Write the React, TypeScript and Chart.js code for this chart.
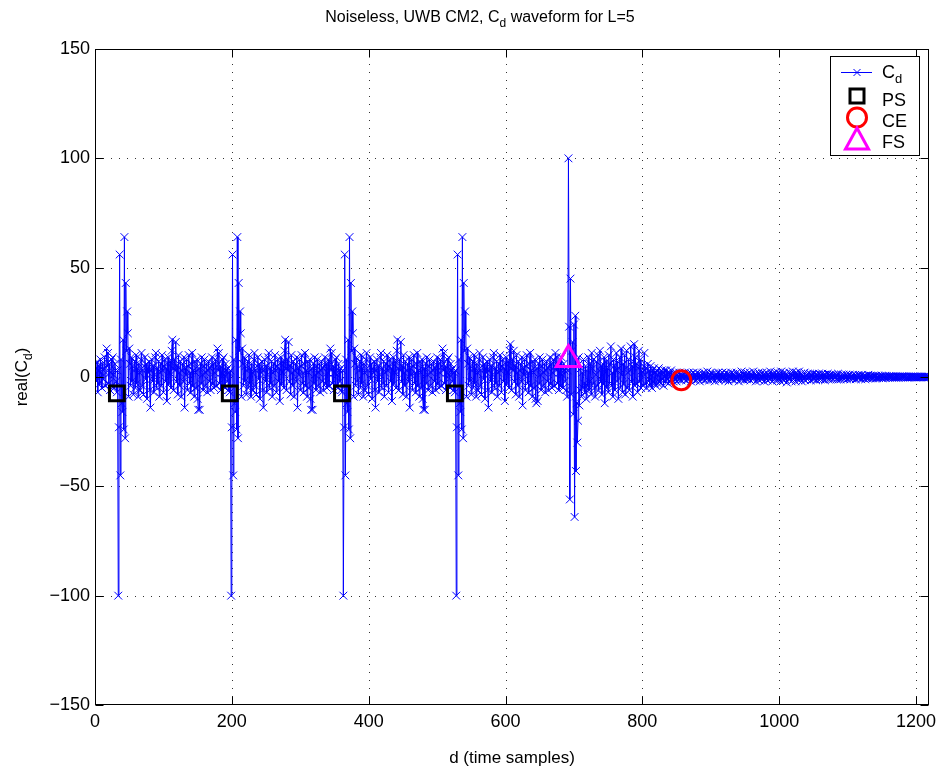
import React, { useEffect, useRef } from "react";
import { Chart, registerables } from "chart.js";

Chart.register(...registerables);

// ---------- DATA: real(C_d) for every time sample d = 0 .. 1219 ----------

// d = 0 .. 198 (first preamble symbol, peak at d = 34)
const cdSymbol1 = [
  1, 4, -2, 7, -7, 3, 5, -3, 8, 2, -5, 6, -1, 4, 9, -4, 2, 13, 5, 11,
  -3, 6, -6, 2, 8, -4, 9, 1, -5, 6, 3, -2, -7, 3, -100, -23, 56, -45, 8, -12,
  -16, 17, -24, 64, -28, 43, 12, 30, 20, -9, 13, 6, -4, 9, -2, 5, -8, 3, 7, -5,
  10, -3, 4, -9, 6, 2, -6, 8, 11, -4, 3, -8, 5, 9, -1, 6, -10, 4, 2, 7,
  -6, -14, 3, 8, -2, 5, -7, 1, 9, 11, -5, 4, -3, 7, -9, 2, 6, -4, 10, 3,
  -7, 5, 8, -2, 4, -11, 6, 9, -3, 2, 7, -5, 12, 17, 4, -6, 8, 3, 16, -2,
  5, -8, 10, 2, -4, 7, -9, 3, 6, -2, 9, -14, 4, 1, 8, -6, 5, 10, -3, 2,
  -7, 6, 11, -4, 3, -9, 7, 2, -5, 8, -10, -15, 4, -15, 6, -3, 9, 1, -6, 5,
  8, -4, 2, 6, -7, 3, 7, -2, 4, -6, 5, 9, -3, 6, -5, 2, 8, -4, 5, 13,
  3, 11, -3, 5, -6, 2, 8, -4, 9, 1, -5, 6, 3, -2, 4, -6, 2, -7, 3,
];

// d = 199 .. 362 (peak at d = 199)
const cdSymbol2 = [
  -100, -23, 56, -45, 8, -12, -16, 17, -24, 64, -28, 43, 12, 30, 20, -9, 13, 6, -4, 9,
  -2, 5, -8, 3, 7, -5, 10, -3, 4, -9, 6, 2, -6, 8, 11, -4, 3, -8, 5, 9,
  -1, 6, -10, 4, 2, 7, -6, -14, 3, 8, -2, 5, -7, 1, 9, 11, -5, 4, -3, 7,
  -9, 2, 6, -4, 10, 3, -7, 5, 8, -2, 4, -11, 6, 9, -3, 2, 7, -5, 12, 17,
  4, -6, 8, 3, 16, -2, 5, -8, 10, 2, -4, 7, -9, 3, 6, -2, 9, -14, 4, 1,
  8, -6, 5, 10, -3, 2, -7, 6, 11, -4, 3, -9, 7, 2, -5, 8, -10, -15, 4, -15,
  6, -3, 9, 1, -6, 5, 8, -4, 2, 6, -7, 3, 7, -2, 4, -6, 5, 9, -3, 6,
  -5, 2, 8, -4, 5, 13, 3, 11, -3, 5, -6, 2, 8, -4, 9, 1, -5, 6, 3, -2,
  4, -6, -7, 3,
];

// d = 363 .. 527 (peak at d = 363)
const cdSymbol3 = [
  -100, -23, 56, -45, 8, -12, -16, 17, -24, 64, -28, 43, 12, 30, 20, -9, 13, 6, -4, 9,
  -2, 5, -8, 3, 7, -5, 10, -3, 4, -9, 6, 2, -6, 8, 11, -4, 3, -8, 5, 9,
  -1, 6, -10, 4, 2, 7, -6, -14, 3, 8, -2, 5, -7, 1, 9, 11, -5, 4, -3, 7,
  -9, 2, 6, -4, 10, 3, -7, 5, 8, -2, 4, -11, 6, 9, -3, 2, 7, -5, 12, 17,
  4, -6, 8, 3, 16, -2, 5, -8, 10, 2, -4, 7, -9, 3, 6, -2, 9, -14, 4, 1,
  8, -6, 5, 10, -3, 2, -7, 6, 11, -4, 3, -9, 7, 2, -5, 8, -10, -15, 4, -15,
  6, -3, 9, 1, -6, 5, 8, -4, 2, 6, -7, 3, 7, -2, 4, -6, 5, 9, -3, 6,
  -5, 2, 8, -4, 5, 13, 3, 11, -3, 5, -6, 2, 8, -4, 9, 1, -5, 6, 3, -2,
  4, -6, 2, -7, 3,
];

// d = 528 .. 691 (peak at d = 528)
const cdSymbol4 = [
  -100, -23, 56, -45, 8, -12, -16, 17, -24, 64, -28, 43, 12, 30, 20, -9, 13, 6, -4, 9,
  -2, 5, -8, 3, 7, -5, 10, -3, 4, -9, 6, 2, -6, 8, 11, -4, 3, -8, 5, 9,
  -1, 6, -10, 4, 2, 7, -6, -14, 3, 8, -2, 5, -7, 1, 9, 11, -5, 4, -3, 7,
  -9, 2, 6, -4, 10, 3, -7, 5, 8, -2, 4, -11, 6, 9, -3, 2, 7, -5, 12, 15,
  4, -6, 8, 3, 12, -2, 5, -8, 10, 2, -4, 7, -9, 3, 6, -2, 9, -13, 4, 1,
  8, -6, 5, 10, -3, 2, -7, 6, 11, -4, 3, -9, 7, 2, -5, 8, -10, -12, 4, -11,
  6, -3, 9, 1, -6, 5, 8, -4, 2, 6, -7, 3, 7, -2, 4, -6, 5, 9, -3, 6,
  -5, 2, 8, -4, 5, 11, 3, 9, -3, 5, -6, 2, 8, -4, 9, 1, -5, 6, 3, -2,
  4, -6, -9, 3,
];

// d = 692 .. 799 (inverted symbol: frame start)
const cdFrameStart = [
  100, 23, -56, 45, -8, 12, 16, -17, 24, -64, 28, -43, -12, -30, -20, 9, -13, -6, 4, -9,
  2, -5, 8, -3, -7, 5, -10, 3, -4, 9, -6, -2, 6, -8, 11, 4, -3, 8, -5, -9,
  1, 7, -4, 10, -6, 3, 12, -2, 5, -8, 6, -3, 9, -12, 2, 7, -5, 4, -7, 10,
  -3, 6, 14, -4, 2, -9, 8, 5, -6, 3, 11, -2, 7, -10, 4, 9, -5, 13, 1, -7,
  6, -3, 10, -8, 4, 12, -5, 2, 8, -6, 3, 14, -2, 5, -9, 7, 15, -4, 9, -3,
  6, -7, 4, 12, -2, 8, -5, 3,
];

// d = 800 .. 856
const cdDecay = [
  2, -4, 5, 11, -3, 4, -5, 2, 6, -2, 3, -4, 5, 1, -5, 3, -2, 4, -3, 2,
  -4, 3, 1, -3, 4, -2, 2, -3, 3, -1, 2, -4, 3, 0, -2, 3, -1, 2, -3, 1,
  2, -2, 3, -1, 1, -2, 2, 0, -1, 2, -2, 1, 0, -1, 2, -1, 1,
];

// d = 857 .. 1219
const cdTail = [
  -1.5, 1, -0.5, 1.5, -1, 2, 0, -1.5, 1, 0.5, -1, 2, -0.5, 1, -2, 1.5, 0, -1, 2, -0.5,
  1, -1.5, 0.5, 2, -1, 0, 1.5, -2, 1, 0.5, -1, 1.5, -0.5, 2, -1.5, 0, 1, -1, 2.5, -0.5,
  0.5, -1.5, 1, 2, -1, 0, 1.5, -1, 0.5, -2, 1, 1.5, -0.5, 0, 2, -1.5, 1, -0.5, 1.5, -1,
  2, 0, -1, 1, -1.5, 2, 0.5, -1, 1.5, -2, 0, 1, -0.5, 2, -1, 0.5, 1.5, -1.5, 1, 0,
  -1, 2, -0.5, 1, -2, 1.5, 0.5, -1, 2.5, -1, 0, 1, -1.5, 2, -0.5, 1, -1, 1.5, 0, -1,
  2, -1.5, 0.5, 1, -1, 2.5, -0.5, 0, 1.5, -2, 1, 0.5, -1, 2, -1.5, 1, 0, -1, 2, -0.5,
  1, -2, 1.5, 0, -1, 2, -1.5, 1, 0.5, -1, 2.5, -0.5, 1, -2, 1.5, 0, -1, 2, -0.5, 1,
  -1.5, 2, 0, -1, 1.5, -2, 2.5, -0.5, 1, -1.5, 2, 0.5, -1, 1.5, -2.5, 1, 0, -1, 2, -0.5,
  1.5, -2, 1, 2.5, -1, 0, 1.5, -2, 2, -0.5, 1, -1.5, 2.5, 0, -1, 1.5, -2, 1, 0.5, -1,
  2, -1.5, 0.5, 1, -1, 1.5, -0.5, 0, 1.5, -1.5, 1, 0.5, -1, 1.5, -1, 0, 1, -1.5, 1, 0.5,
  -1, 1.5, 0, -1, 1, -0.5, 1.5, -1, 0.5, 1, -1.5, 1, 0, -0.5, 1.5, -1, 0.5, 1, -1, 0,
  1, -1, 0.5, 1, -0.5, 0, 1, -1, 0.5, 1.5, -1, 0, 0.5, -1, 1, 0, -0.5, 1, -1, 0.5,
  0, 1, -1, 0.5, 0.5, -0.5, 1, -1, 0, 0.5, -0.5, 1, -0.5, 0, 1, -1, 0.5, 0, -0.5, 1,
  -0.5, 0, 0.5, -1, 1, 0, -0.5, 0.5, 0.5, -1, 0.5, 0, -0.5, 1, -0.5, 0, 0.5, -0.5, 0.5, 0,
  -0.5, 0.5, 0, 0.5, -0.5, 0.5, -0.5, 0, 0.5, -0.5, 0.3, 0, -0.3, 0.5, -0.5, 0.3, 0, -0.3, 0.5, -0.3,
  0.3, 0, -0.3, 0.3, 0.2, -0.3, 0.3, 0, -0.2, 0.3, -0.3, 0.2, 0, -0.2, 0.3, -0.2, 0.2, 0, -0.2, 0.2,
  0, -0.2, 0.2, 0.1, -0.2, 0.2, 0, -0.1, 0.2, -0.2, 0.1, 0, -0.1, 0.2, -0.1, 0.1, 0, -0.1, 0.1, -0.1,
  0.1, 0, -0.1, 0.1, 0, -0.1, 0.1, 0, 0, 0.1, -0.1, 0, 0.1, 0, -0.1, 0, 0.1, 0, 0, -0.1,
  0, 0.1, 0,
];

const cdValues = [
  ...cdSymbol1,
  ...cdSymbol2,
  ...cdSymbol3,
  ...cdSymbol4,
  ...cdFrameStart,
  ...cdDecay,
  ...cdTail,
];
const dSamples = cdValues.map((_, i) => i);

// markers
const psD = [32, 197, 361, 526];
const psValues = [-7.5, -7.5, -7.5, -7.5];
const ceD = [857];
const ceValues = [-1.5];
const fsD = [692];
const fsValues = [8];

// axes
const X_MIN = 0;
const X_MAX = 1219;
const Y_MIN = -150;
const Y_MAX = 150;
const xTicks = [0, 200, 400, 600, 800, 1000, 1200];
const yTicks = [-150, -100, -50, 0, 50, 100, 150];

const legendLabels = ["C", "PS", "CE", "FS"];

const FONT = "'Liberation Sans', Arial, Helvetica, sans-serif";

// ---------- helpers ----------
function drawSubText(
  ctx: CanvasRenderingContext2D,
  parts: { t: string; sub?: boolean }[],
  x: number,
  y: number,
  size: number,
  align: "left" | "center"
) {
  const subSize = Math.round(size * 0.72);
  let total = 0;
  for (const p of parts) {
    ctx.font = `${p.sub ? subSize : size}px ${FONT}`;
    total += ctx.measureText(p.t).width;
  }
  let cx = align === "center" ? x - total / 2 : x;
  ctx.textAlign = "left";
  ctx.textBaseline = "alphabetic";
  for (const p of parts) {
    ctx.font = `${p.sub ? subSize : size}px ${FONT}`;
    ctx.fillText(p.t, cx, p.sub ? y + size * 0.3 : y);
    cx += ctx.measureText(p.t).width;
  }
}

const matlabPlugin = {
  id: "matlabLook",
  beforeDatasetsDraw(chart: any) {
    const { ctx, chartArea: a, scales } = chart;
    const xs = scales.x;
    const ys = scales.y;
    ctx.save();
    ctx.strokeStyle = "rgba(0,0,0,0.8)";
    ctx.lineWidth = 1;
    ctx.setLineDash([1, 7]);
    for (const v of xTicks) {
      if (v === X_MIN) continue;
      const px = Math.round(xs.getPixelForValue(v)) + 0.5;
      ctx.beginPath();
      ctx.moveTo(px, a.bottom);
      ctx.lineTo(px, a.top);
      ctx.stroke();
    }
    for (const v of yTicks) {
      if (v === Y_MIN || v === Y_MAX) continue;
      const py = Math.round(ys.getPixelForValue(v)) + 0.5;
      ctx.beginPath();
      ctx.moveTo(a.left, py);
      ctx.lineTo(a.right, py);
      ctx.stroke();
    }
    ctx.restore();
  },
  afterDraw(chart: any) {
    const { ctx, chartArea: a, scales } = chart;
    const xs = scales.x;
    const ys = scales.y;
    ctx.save();
    ctx.setLineDash([]);
    ctx.strokeStyle = "#000";
    ctx.lineWidth = 1;
    const L = Math.round(a.left) + 0.5;
    const R = Math.round(a.right) - 0.5;
    const T = Math.round(a.top) + 0.5;
    const B = Math.round(a.bottom) - 0.5;
    ctx.strokeRect(L, T, R - L, B - T);
    const tl = 8;
    ctx.beginPath();
    for (const v of xTicks) {
      const px = Math.round(xs.getPixelForValue(v)) + 0.5;
      ctx.moveTo(px, B);
      ctx.lineTo(px, B - tl);
      ctx.moveTo(px, T);
      ctx.lineTo(px, T + tl);
    }
    for (const v of yTicks) {
      const py = Math.round(ys.getPixelForValue(v)) + 0.5;
      ctx.moveTo(L, py);
      ctx.lineTo(L + tl, py);
      ctx.moveTo(R, py);
      ctx.lineTo(R - tl, py);
    }
    ctx.stroke();

    // x tick labels
    ctx.fillStyle = "#000";
    ctx.font = `18px ${FONT}`;
    ctx.textAlign = "center";
    ctx.textBaseline = "top";
    for (const v of xTicks) {
      ctx.fillText(String(v), xs.getPixelForValue(v), a.bottom + 8);
    }

    // title
    drawSubText(
      ctx,
      [{ t: "Noiseless, UWB CM2, C" }, { t: "d", sub: true }, { t: " waveform for L=5" }],
      480,
      22,
      16,
      "center"
    );
    // x label
    drawSubText(ctx, [{ t: "d (time samples)" }], 512, 763, 17, "center");
    // y label
    ctx.save();
    ctx.translate(27, 377);
    ctx.rotate(-Math.PI / 2);
    drawSubText(ctx, [{ t: "real(C" }, { t: "d", sub: true }, { t: ")" }], 0, 0, 17, "center");
    ctx.restore();

    // legend
    const lx0 = 830.5, ly0 = 56.5, lx1 = 919.5, ly1 = 155.5;
    ctx.fillStyle = "#fff";
    ctx.fillRect(lx0, ly0, lx1 - lx0, ly1 - ly0);
    ctx.strokeStyle = "#000";
    ctx.lineWidth = 1;
    ctx.strokeRect(lx0, ly0, lx1 - lx0, ly1 - ly0);
    const mx = 857;
    ctx.strokeStyle = "#0000ff";
    ctx.lineWidth = 1;
    ctx.beginPath();
    ctx.moveTo(841, 72.5);
    ctx.lineTo(872, 72.5);
    const c = 3.5;
    ctx.moveTo(mx - c, 72.5 - c);
    ctx.lineTo(mx + c, 72.5 + c);
    ctx.moveTo(mx - c, 72.5 + c);
    ctx.lineTo(mx + c, 72.5 - c);
    ctx.stroke();
    ctx.strokeStyle = "#000";
    ctx.lineWidth = 3;
    ctx.strokeRect(mx - 7, 96 - 7, 14, 14);
    ctx.strokeStyle = "#ff0000";
    ctx.beginPath();
    ctx.arc(mx, 117.5, 9.5, 0, Math.PI * 2);
    ctx.stroke();
    ctx.strokeStyle = "#ff00ff";
    ctx.beginPath();
    ctx.moveTo(mx, 128);
    ctx.lineTo(mx + 11.5, 149);
    ctx.lineTo(mx - 11.5, 149);
    ctx.closePath();
    ctx.stroke();
    ctx.fillStyle = "#000";
    drawSubText(ctx, [{ t: legendLabels[0] }, { t: "d", sub: true }], 882, 78, 18, "left");
    drawSubText(ctx, [{ t: legendLabels[1] }], 882, 106, 18, "left");
    drawSubText(ctx, [{ t: legendLabels[2] }], 882, 127, 18, "left");
    drawSubText(ctx, [{ t: legendLabels[3] }], 882, 148, 18, "left");
    ctx.restore();
  },
};

export default function App() {
  const canvasRef = useRef<HTMLCanvasElement | null>(null);

  useEffect(() => {
    document.body.style.margin = "0";
    const canvas = canvasRef.current;
    if (!canvas) return;
    const tickFont = { family: FONT, size: 18 };
    const chart = new Chart(canvas, {
      type: "line",
      data: {
        datasets: [
          {
            label: "PS",
            data: psD.map((d, i) => ({ x: d, y: psValues[i] })),
            showLine: false,
            pointStyle: "rect",
            pointRadius: 10.5,
            pointBorderWidth: 3,
            pointBorderColor: "#000000",
            pointBackgroundColor: "rgba(0,0,0,0)",
            borderColor: "#000000",
            order: 0,
          },
          {
            label: "CE",
            data: ceD.map((d, i) => ({ x: d, y: ceValues[i] })),
            showLine: false,
            pointStyle: "circle",
            pointRadius: 9.5,
            pointBorderWidth: 3,
            pointBorderColor: "#ff0000",
            pointBackgroundColor: "rgba(0,0,0,0)",
            borderColor: "#ff0000",
            order: 1,
          },
          {
            label: "FS",
            data: fsD.map((d, i) => ({ x: d, y: fsValues[i] })),
            showLine: false,
            pointStyle: "triangle",
            pointRadius: 14,
            pointBorderWidth: 3,
            pointBorderColor: "#ff00ff",
            pointBackgroundColor: "rgba(0,0,0,0)",
            borderColor: "#ff00ff",
            order: 2,
          },
          {
            label: "Cd",
            data: dSamples.map((d, i) => ({ x: d, y: cdValues[i] })),
            borderColor: "#0000ff",
            borderWidth: 1,
            tension: 0,
            pointStyle: "crossRot",
            pointRadius: 5.5,
            pointBorderWidth: 1,
            pointBorderColor: "#0000ff",
            pointBackgroundColor: "#0000ff",
            order: 5,
          },
        ],
      },
      options: {
        animation: false,
        responsive: false,
        devicePixelRatio: 1,
        events: [],
        layout: { autoPadding: false, padding: { top: 49, right: 12, bottom: 0, left: 0 } },
        plugins: {
          legend: { display: false },
          title: { display: false },
          tooltip: { enabled: false },
        },
        scales: {
          x: {
            type: "linear",
            min: X_MIN,
            max: X_MAX,
            grid: { display: false, drawTicks: false },
            border: { display: false },
            afterBuildTicks: (s: any) => {
              s.ticks = xTicks.map((v) => ({ value: v }));
            },
            afterFit: (s: any) => {
              s.height = 66;
            },
            ticks: { display: false },
          },
          y: {
            type: "linear",
            min: Y_MIN,
            max: Y_MAX,
            grid: { display: false, drawTicks: false },
            border: { display: false },
            afterBuildTicks: (s: any) => {
              s.ticks = yTicks.map((v) => ({ value: v }));
            },
            afterFit: (s: any) => {
              s.width = 95;
            },
            ticks: {
              color: "#000",
              font: tickFont,
              padding: 5,
              autoSkip: false,
              callback: (v: any) => (Number(v) < 0 ? "\u2212" + Math.abs(Number(v)) : String(v)),
            },
          },
        },
      },
      plugins: [matlabPlugin],
    } as any);
    return () => chart.destroy();
  }, []);

  return (
    <div style={{ position: "absolute", left: 0, top: 0, width: 941, height: 771, background: "#fff" }}>
      <canvas ref={canvasRef} width={941} height={771} style={{ width: 941, height: 771, display: "block" }} />
    </div>
  );
}
